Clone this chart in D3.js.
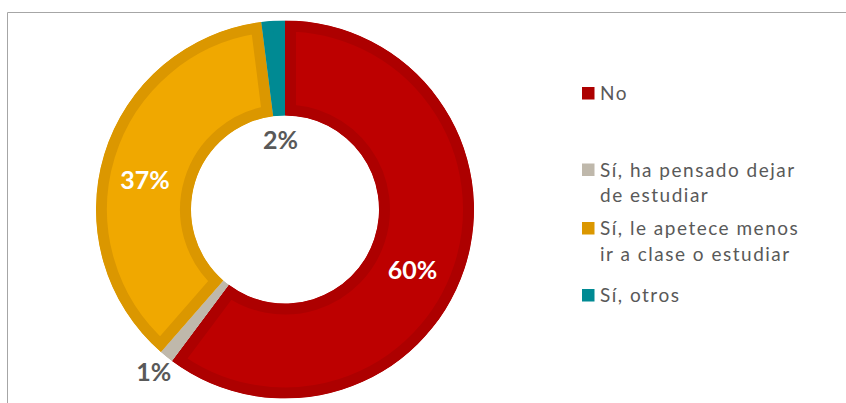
<!DOCTYPE html>
<html>
<head>
<meta charset="utf-8">
<script src="https://cdn.jsdelivr.net/npm/d3@7"></script>
<style>
  body { margin: 0; background: #fff; }
  svg { display: block; font-family: Lato, "Noto Sans", sans-serif; }
</style>
</head>
<body>
<div id="chart"></div>
<script>
// Data
var categories = ["No", "Sí, ha pensado dejar de estudiar", "Sí, le apetece menos ir a clase o estudiar", "Sí, otros"];
var legendLines = [["No"], ["Sí, ha pensado dejar", "de estudiar"], ["Sí, le apetece menos", "ir a clase o estudiar"], ["Sí, otros"]];
var values = [60.2, 1.2, 36.6, 2.0];
var labels = ["60%", "1%", "37%", "2%"];

var fills = ["#bd0000", "#bfb8ab", "#f0a800", "#008a93"];
var borders = ["#ad0000", "#bfb8ab", "#db9700", "#008a93"];
var labelColors = ["#fff", "#595959", "#fff", "#595959"];

var width = 846, height = 403;
var cx = 285, cy = 209.5;
var outerR = 189, innerR = 94, borderW = 11;

// label placement: radius and angular nudge (degrees) per slice
var labelRadius = [141, 209, 143, 70];
var labelNudge = [7, 0, -5, 0];

var svg = d3.select("#chart").append("svg")
  .attr("width", width)
  .attr("height", height);

// chart frame (top and left edges visible)
svg.append("path")
  .attr("d", "M7.5," + height + "V12.5H" + width)
  .attr("fill", "none")
  .attr("stroke", "#a6a6a6")
  .attr("stroke-width", 1);

var pie = d3.pie().sort(null).value(function(d) { return d; });
var arcs = pie(values);
var arc = d3.arc().innerRadius(innerR).outerRadius(outerR);

var g = svg.append("g").attr("transform", "translate(" + cx + "," + cy + ")");
var defs = svg.append("defs");

// slices, with the border kept inside each slice through a clip
arcs.forEach(function(a, i) {
  defs.append("clipPath").attr("id", "clip" + i)
    .append("path").attr("d", arc(a));
  g.append("path")
    .attr("d", arc(a))
    .attr("fill", fills[i])
    .attr("stroke", borders[i])
    .attr("stroke-width", borderW * 2)
    .attr("stroke-linejoin", "miter")
    .attr("clip-path", "url(#clip" + i + ")");
});

// data labels
arcs.forEach(function(a, i) {
  var ang = (a.startAngle + a.endAngle) / 2 + labelNudge[i] * Math.PI / 180;
  var r = labelRadius[i];
  g.append("text")
    .attr("x", Math.sin(ang) * r)
    .attr("y", -Math.cos(ang) * r)
    .attr("dy", "0.36em")
    .attr("text-anchor", "middle")
    .attr("font-size", 25)
    .attr("font-weight", "bold")
    .attr("fill", labelColors[i])
    .text(labels[i]);
});

// legend
var legendTop = [100, 176.5, 235, 302];
var legend = svg.append("g").attr("transform", "translate(582,0)");
categories.forEach(function(c, i) {
  var row = legend.append("g");
  row.append("rect")
    .attr("x", 0)
    .attr("y", legendTop[i] - 13)
    .attr("width", 12.5)
    .attr("height", 12.5)
    .attr("fill", borders[i]);
  legendLines[i].forEach(function(line, j) {
    row.append("text")
      .attr("x", 18)
      .attr("y", legendTop[i] + j * 25.5)
      .attr("font-size", 19)
      .attr("letter-spacing", 1.5)
      .attr("fill", "#595959")
      .text(line);
  });
});
</script>
</body>
</html>
